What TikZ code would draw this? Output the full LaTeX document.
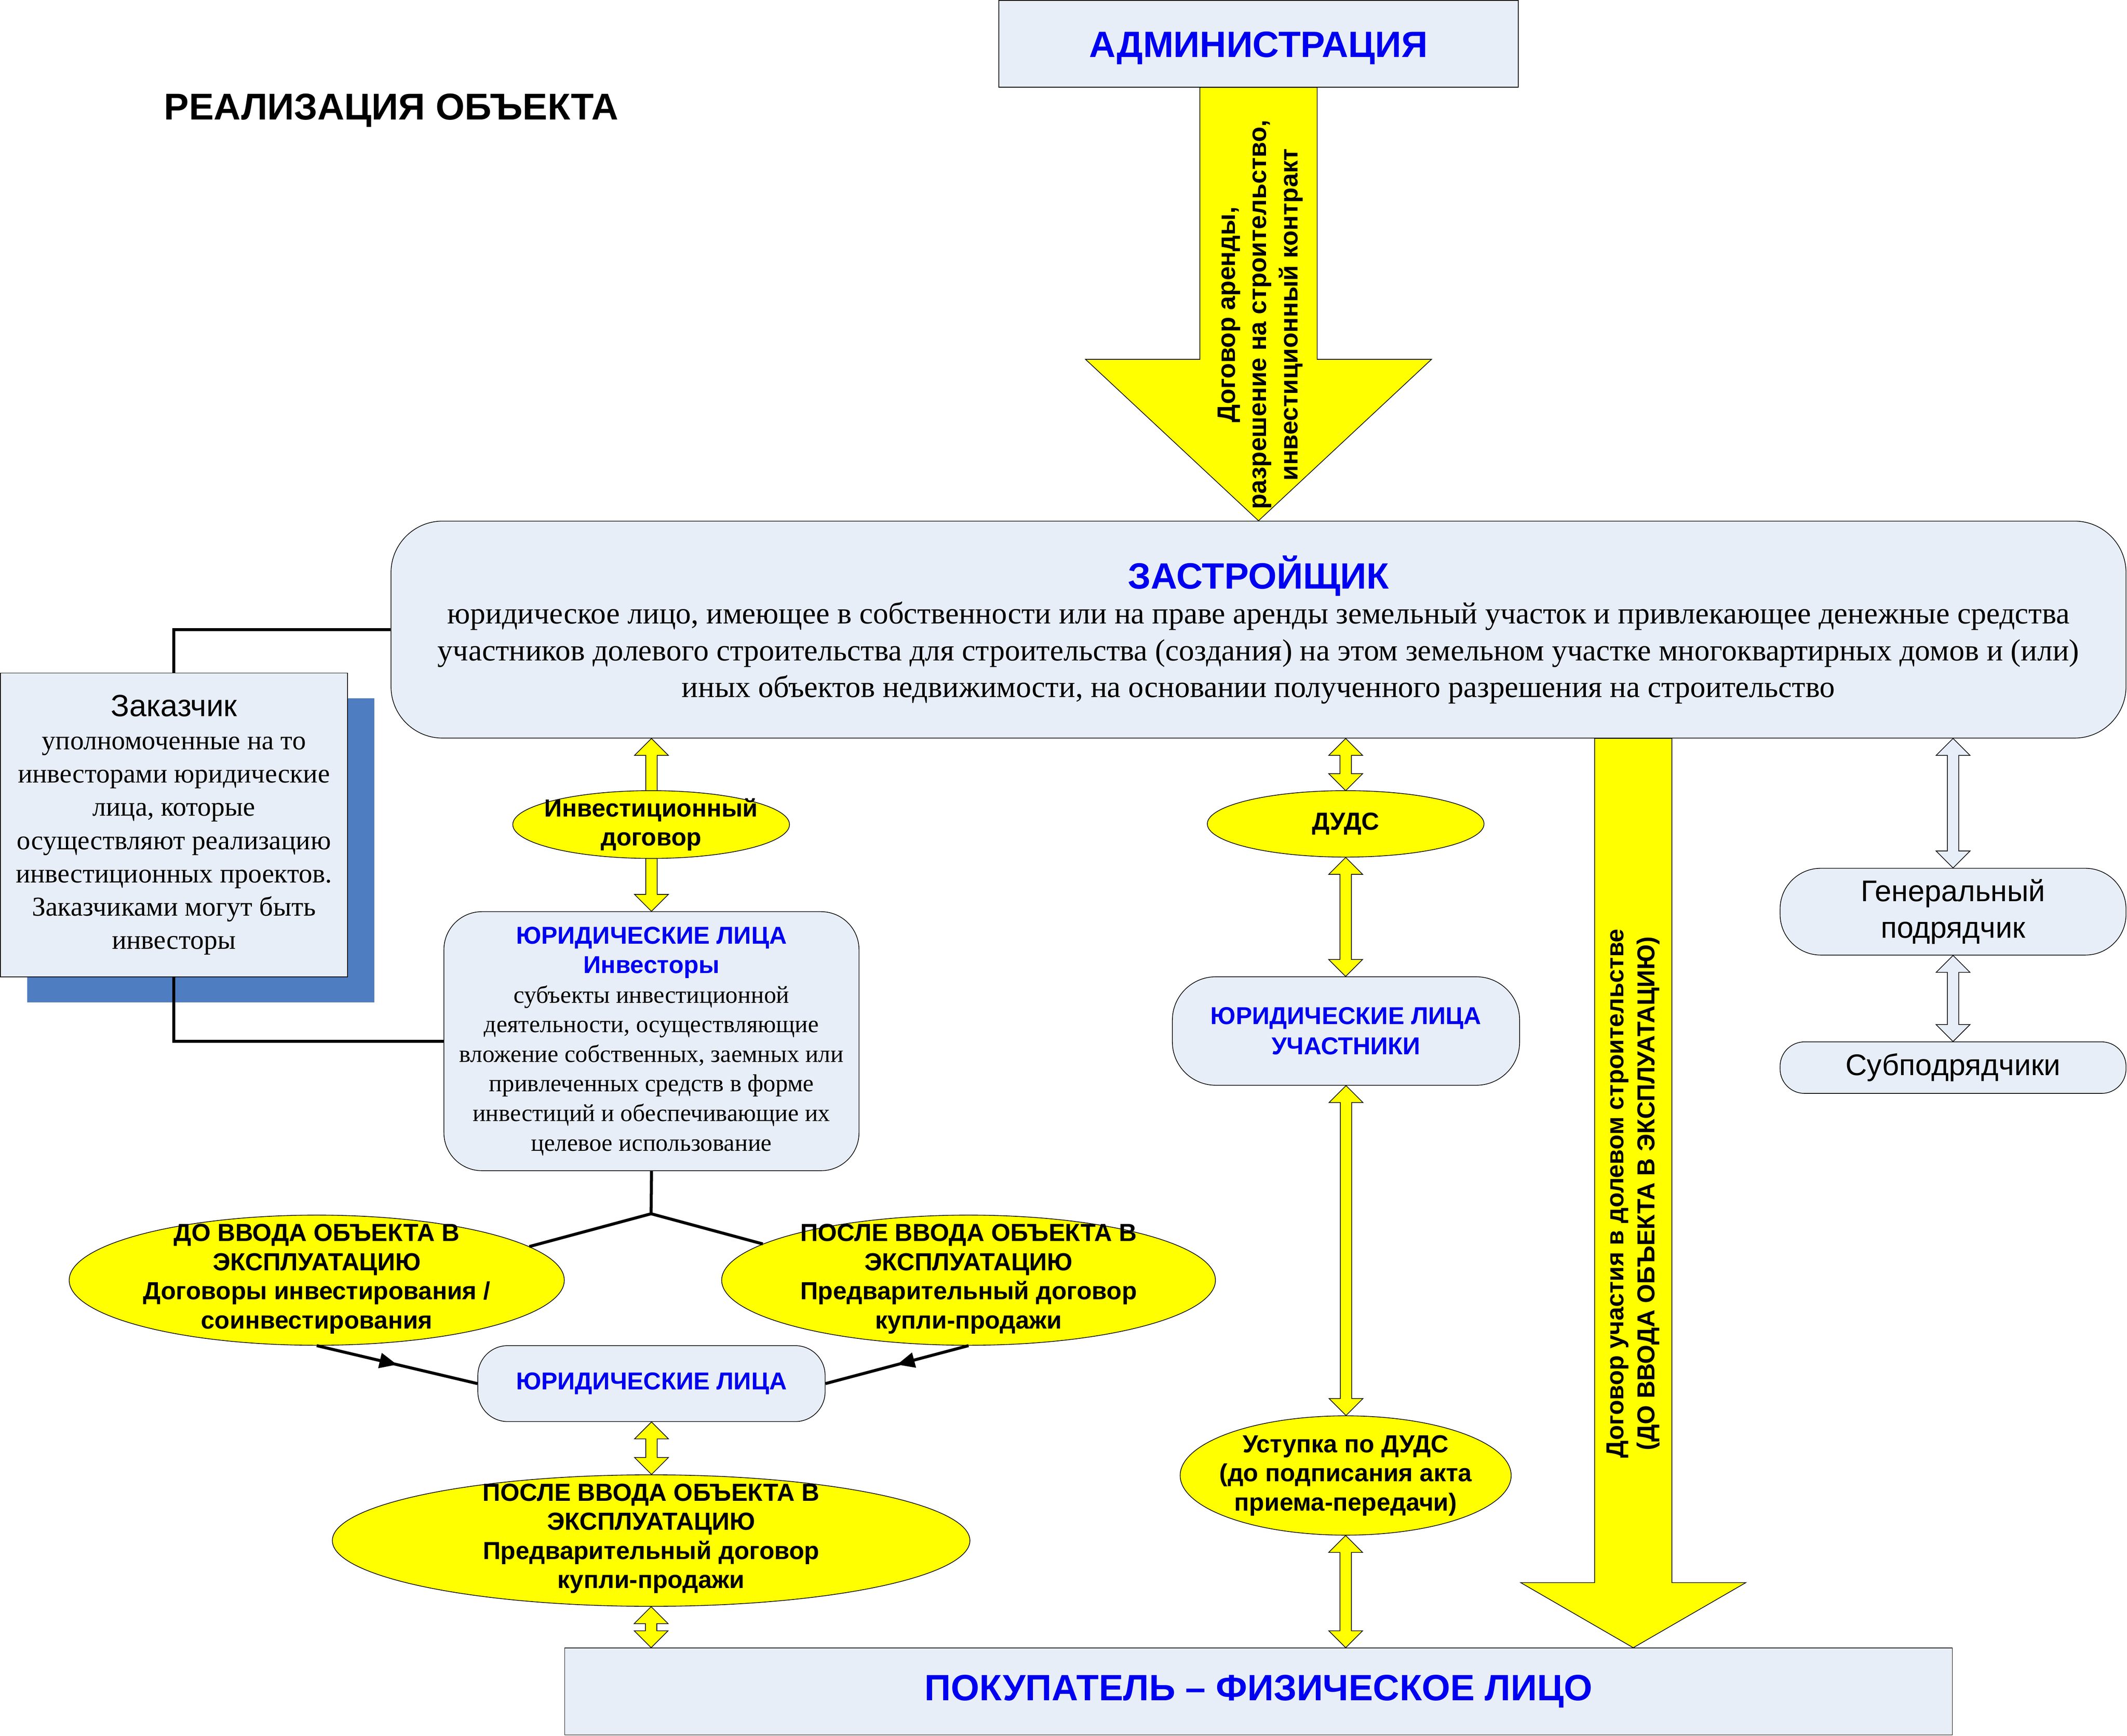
\documentclass[tikz,border=0pt]{standalone}
\usepackage{fontspec}
\setmainfont{Liberation Serif}
\setsansfont{Liberation Sans}
\newfontfamily\arial{Liberation Sans}
\usetikzlibrary{calc,shapes.geometric,decorations.markings,arrows.meta}
\definecolor{boxfill}{RGB}{232,238,247}
\definecolor{ttblue}{RGB}{0,0,240}
\definecolor{shadowblue}{RGB}{79,125,193}
\definecolor{yel}{RGB}{255,255,0}
\newcommand\fsz[2]{\fontsize{#1}{#2}\selectfont}
% double block arrow: #1 top point, #2 bottom point, #3 fill
\newcommand\dblarrow[3]{\filldraw[fill=#3,draw=black,line width=0.5pt] let \p1=(#1), \p2=(#2) in
  (\x1,\y1) -- (\x1+12.5pt,\y1-12.5pt) -- (\x1+4.2pt,\y1-12.5pt) -- (\x1+4.2pt,\y2+12.5pt) --
  (\x1+12.5pt,\y2+12.5pt) -- (\x1,\y2) -- (\x1-12.5pt,\y2+12.5pt) -- (\x1-4.2pt,\y2+12.5pt) --
  (\x1-4.2pt,\y1-12.5pt) -- (\x1-12.5pt,\y1-12.5pt) -- cycle;}
% single block arrow down: #1 top, #2 tip, #3 shaft half width, #4 head half width, #5 head length
\newcommand\blockarrow[5]{\filldraw[fill=yel,draw=black,line width=0.5pt] let \p1=(#1), \p2=(#2) in
  (\x1-#3,\y1) -- (\x1+#3,\y1) -- (\x1+#3,\y2+#5) -- (\x1+#4,\y2+#5) -- (\x2,\y2) --
  (\x1-#4,\y2+#5) -- (\x1-#3,\y2+#5) -- cycle;}
\begin{document}
\begin{tikzpicture}[x=1pt,y=-1pt,
  box/.style={draw=black,line width=0.5pt,fill=boxfill,inner sep=0pt,align=center},
  ell/.style={ellipse,draw=black,line width=0.5pt,fill=yel,inner sep=0pt},
  etext/.style={font=\arial\bfseries\fsz{18.2}{21.5},align=center,inner sep=0pt},
  ttl/.style={font=\arial\bfseries\fsz{27}{32},text=ttblue},
  conn/.style={line width=2.2pt,draw=black},
  midarrow/.style={postaction={decorate},decoration={markings,mark=at position 0.5 with {\arrow{Triangle[length=13pt,width=11pt]}}}}
]
\useasboundingbox (0,0) rectangle (1568,1280);
\fill[white] (0,0) rectangle (1568,1280);

\node[font=\arial\bfseries\fsz{27.5}{32},inner sep=0pt] (title) at (288.5,81.5) {РЕАЛИЗАЦИЯ ОБЪЕКТА};

% Zakazchik with shadow
\fill[shadowblue] (20,515) rectangle (276,739);
\node[box,anchor=north west,minimum width=256pt,minimum height=224pt,font=\fsz{20.1}{24.5}] (zak) at (0,496)
 {{\arial\fsz{22.7}{24.5}Заказчик}\\[0pt]уполномоченные на то\\инвесторами юридические\\лица, которые\\осуществляют реализацию\\инвестиционных проектов.\\Заказчиками могут быть\\инвесторы};

\node[box,anchor=north west,minimum width=383pt,minimum height=64pt,ttl,text depth=4pt,text height=24pt] (admin) at (736,0) {АДМИНИСТРАЦИЯ};

\node[box,anchor=north west,minimum width=1279pt,minimum height=160pt,rounded corners=38pt,font=\fsz{22.6}{27}] (zast) at (288,384)
 {{\arial\bfseries\fsz{27}{27}\color{ttblue}ЗАСТРОЙЩИК}\\[-1pt]
 юридическое лицо, имеющее в собственности или на праве аренды земельный участок и привлекающее денежные средства\\
 участников долевого строительства для строительства (создания) на этом земельном участке многоквартирных домов и (или)\\
 иных объектов недвижимости, на основании полученного разрешения на строительство};

\node[box,anchor=north west,minimum width=306pt,minimum height=191pt,rounded corners=28pt,font=\fsz{18}{21.8}] (invs) at (327,672)
 {{\arial\bfseries\fsz{18}{21.8}\color{ttblue}ЮРИДИЧЕСКИЕ ЛИЦА}\\
  {\arial\bfseries\fsz{18}{21.8}\color{ttblue}Инвесторы}\\
  субъекты инвестиционной\\деятельности, осуществляющие\\вложение собственных, заемных или\\привлеченных средств в форме\\инвестиций и обеспечивающие их\\целевое использование};

\node[box,anchor=north west,minimum width=256pt,minimum height=80pt,rounded corners=32pt,font=\arial\bfseries\fsz{18}{22},text=ttblue] (uch) at (864,720)
 {ЮРИДИЧЕСКИЕ ЛИЦА\\УЧАСТНИКИ};

\node[box,anchor=north west,minimum width=256pt,minimum height=56pt,rounded corners=22pt,font=\arial\bfseries\fsz{18}{22},text=ttblue] (ybot) at (352,992)
 {ЮРИДИЧЕСКИЕ ЛИЦА};

\node[box,anchor=north west,minimum width=255pt,minimum height=64pt,rounded corners=30pt,font=\arial\fsz{22}{27}] (gen) at (1312,640)
 {Генеральный\\подрядчик};
\node[box,anchor=north west,minimum width=255pt,minimum height=38pt,rounded corners=18pt,font=\arial\fsz{22}{27}] (sub) at (1312,768)
 {Субподрядчики};

\node[box,anchor=north west,minimum width=1023pt,minimum height=64pt,ttl] (pok) at (416,1215)
 {ПОКУПАТЕЛЬ – ФИЗИЧЕСКОЕ ЛИЦО};

% big arrows
\blockarrow{admin.south}{zast.north}{43.25pt}{127.5pt}{119pt}
\node[font=\arial\bfseries\fsz{18.6}{23},align=center,rotate=90,inner sep=0pt] (admtxt) at (929,232)
 {Договор аренды,\\разрешение на строительство,\\инвестиционный контракт};

\coordinate (ddu) at (1204,0);
\blockarrow{ddu |- zast.south}{ddu |- pok.north}{28.5pt}{83pt}{48pt}
\node[font=\arial\bfseries\fsz{18.1}{23},align=center,rotate=90,inner sep=0pt] (ddutxt) at (1204,880)
 {Договор участия в долевом строительстве\\(ДО ВВОДА ОБЪЕКТА В ЭКСПЛУАТАЦИЮ)};

% connectors
\draw[conn] (zast.west) -| (zak.north);
\draw[conn] (zak.south) |- (invs.west);

% double arrows
\dblarrow{invs.north |- zast.south}{invs.north}{yel}
\coordinate (dudsx) at (992,0);
\dblarrow{dudsx |- zast.south}{dudsx |- 0,583}{yel}

% ellipses
\node[ell,minimum width=204pt,minimum height=50pt] (inv) at (480,608) {};
\node[etext] (invt) at (inv) {Инвестиционный\\договор};
\node[ell,minimum width=204pt,minimum height=49pt] (duds) at (992,607.5) {};
\node[etext] (dudst) at (duds) {ДУДС};
\node[ell,minimum width=365pt,minimum height=96pt] (before) at (233.5,944) {};
\node[etext] (beforet) at (233.5,943) {ДО ВВОДА ОБЪЕКТА В\\ЭКСПЛУАТАЦИЮ\\Договоры инвестирования /\\соинвестирования};
\node[ell,minimum width=364pt,minimum height=96pt] (after1) at (714,944) {};
\node[etext] (after1t) at (714,943) {ПОСЛЕ ВВОДА ОБЪЕКТА В\\ЭКСПЛУАТАЦИЮ\\Предварительный договор\\купли-продажи};
\node[ell,minimum width=470pt,minimum height=97pt] (after2) at (480,1136) {};
\node[etext] (after2t) at (480,1134.5) {ПОСЛЕ ВВОДА ОБЪЕКТА В\\ЭКСПЛУАТАЦИЮ\\Предварительный договор\\купли-продажи};
\node[ell,minimum width=244pt,minimum height=88pt] (ust) at (992,1088) {};
\node[etext] (ustt) at (ust) {Уступка по ДУДС\\(до подписания акта\\приема-передачи)};

\dblarrow{duds.south}{uch.north}{yel}
\dblarrow{uch.south}{ust.north}{yel}
\dblarrow{ust.south}{ust.south |- pok.north}{yel}
\dblarrow{ybot.south}{after2.north}{yel}
\dblarrow{after2.south}{after2.south |- pok.north}{yel}
\dblarrow{gen.north |- zast.south}{gen.north}{boxfill}
\dblarrow{gen.south}{sub.north}{boxfill}

% tree
\coordinate (junc) at (480,895);
\draw[conn] (invs.south) -- (junc);
\draw[conn] (junc) -- (before.9);
\draw[conn] (junc) -- (after1.170);
\draw[conn,midarrow] (before.south) -- (ybot.west);
\draw[conn,midarrow] (after1.south) -- (ybot.east);
\end{tikzpicture}
\end{document}
